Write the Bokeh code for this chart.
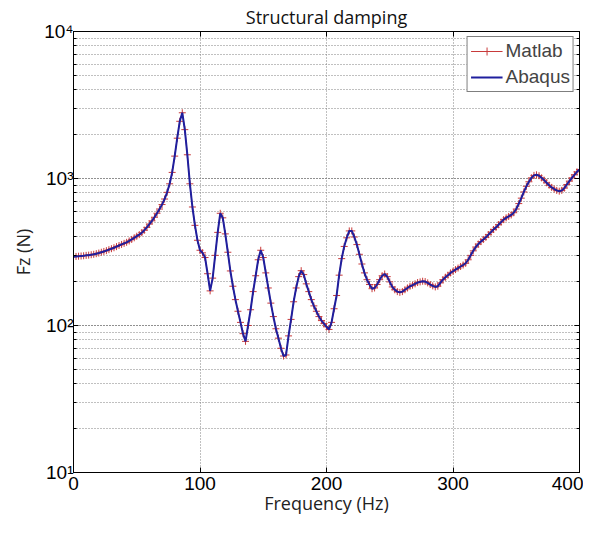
from bokeh.plotting import figure
from bokeh.models import (LogAxis, LinearAxis, LogTicker, FixedTicker, CustomJSTickFormatter,
                          Legend, LegendItem, Range1d)
from bokeh.embed import file_html
from bokeh.resources import INLINE

# ---- data ----
freq = list(range(0, 401, 2))
fz_matlab = [
    294, 295, 296, 297, 298, 300, 301, 303, 305, 308,
    311, 315, 319, 323, 328, 333, 338, 344, 350, 356,
    362, 368, 376, 385, 395, 405, 415, 428, 445, 465,
    490, 515, 545, 580, 620, 665, 725, 805, 920, 1100,
    1420, 1880, 2450, 2800, 2150, 1450, 920, 640, 480, 380,
    325, 312, 290, 225, 172, 210, 300, 430, 580, 540,
    420, 315, 235, 185, 150, 125, 105, 88, 78, 100,
    128, 170, 218, 280, 325, 290, 228, 180, 142, 115,
    95, 82, 70, 62, 63, 85, 110, 145, 180, 215,
    236, 222, 192, 170, 150, 136, 125, 115, 108, 103,
    98, 94, 105, 130, 160, 220, 285, 345, 395, 440,
    440, 400, 355, 305, 262, 228, 205, 190, 178, 180,
    190, 205, 218, 224, 215, 198, 183, 175, 170, 168,
    170, 175, 180, 185, 188, 192, 196, 198, 200, 199,
    195, 190, 186, 183, 185, 195, 205, 213, 220, 228,
    234, 240, 246, 252, 258, 265, 280, 300, 322, 342,
    358, 372, 385, 398, 415, 432, 450, 465, 485, 505,
    525, 540, 552, 565, 585, 620, 675, 735, 810, 885,
    950, 1010, 1050, 1060, 1045, 1010, 975, 935, 900, 870,
    848, 830, 820, 830, 860, 910, 960, 1010, 1060, 1110,
    1150,
]
fz_abaqus = fz_matlab
x_ticks = [0, 100, 200, 300, 400]
title_text = "Structural damping"
x_label = "Frequency (Hz)"
y_label = "Fz (N)"
series_names = ["Matlab", "Abaqus"]

TICK_FONT = "Liberation Sans"
LABEL_FONT = "Open Sans"
GRID_COLOR = "#808080"

p = figure(width=583, height=517, y_axis_type="log",
           x_range=Range1d(0, 400), y_range=Range1d(10, 10000),
           output_backend="svg", toolbar_location=None, title=title_text)

p.min_border_left = 73
p.min_border_right = 4
p.min_border_top = 0
p.min_border_bottom = 0
p.outline_line_color = "black"
p.outline_line_width = 1

p.title.align = "center"
p.title.text_font = LABEL_FONT
p.title.text_font_size = "18px"
p.title.text_font_style = "normal"
p.title.text_color = "#111111"
p.title.offset = 0
p.title.standoff = 5

sup = CustomJSTickFormatter(code="""
const s = {'0':'\u2070','1':'\u00b9','2':'\u00b2','3':'\u00b3','4':'\u2074','5':'\u2075','6':'\u2076','7':'\u2077','8':'\u2078','9':'\u2079','-':'\u207b'};
const e = Math.round(Math.log10(tick));
return '10' + String(e).split('').map(c => s[c]).join('');
""")
blank = CustomJSTickFormatter(code="return '';")

yt = LogTicker(num_minor_ticks=10)
p.yaxis.ticker = yt
p.yaxis.formatter = sup
p.xaxis.ticker = FixedTicker(ticks=x_ticks)

for ax in [p.xaxis[0], p.yaxis[0]]:
    ax.major_label_text_font = TICK_FONT
    ax.major_label_text_font_size = "19px"
    ax.major_label_text_color = "black"
    ax.axis_label_text_font = LABEL_FONT
    ax.axis_label_text_font_size = "18px"
    ax.axis_label_text_font_style = "normal"
    ax.axis_label_text_color = "#222222"
    ax.major_tick_in = 5
    ax.major_tick_out = 0
    ax.minor_tick_in = 3
    ax.minor_tick_out = 0
    ax.axis_line_color = "black"

p.xaxis.axis_label = x_label
p.yaxis.axis_label = y_label
p.xaxis.minor_tick_line_color = None
p.xaxis.major_label_standoff = 4
p.yaxis.major_label_standoff = 0
p.xaxis.axis_label_standoff = -2
p.yaxis.axis_label_standoff = 6

right = LogAxis(ticker=LogTicker(num_minor_ticks=10), formatter=blank,
                major_tick_in=5, major_tick_out=0, minor_tick_in=3, minor_tick_out=0,
                major_label_standoff=0)
p.add_layout(right, "right")
top = LinearAxis(ticker=FixedTicker(ticks=x_ticks), formatter=blank,
                 major_tick_in=5, major_tick_out=0, minor_tick_line_color=None,
                 major_label_standoff=0)
p.add_layout(top, "above")

p.xgrid.grid_line_color = GRID_COLOR
p.xgrid.grid_line_dash = "1 2"
p.ygrid.grid_line_color = GRID_COLOR
p.ygrid.grid_line_dash = "1 2"
p.ygrid.minor_grid_line_color = GRID_COLOR
p.ygrid.minor_grid_line_dash = "1 2"

r_ml = p.line(freq, fz_matlab, line_color="#c83a3a", line_width=1)
r_mk = p.scatter(freq, fz_matlab, marker="cross", size=7, line_color="#c83a3a", line_width=1)
r_ab = p.line(freq, fz_abaqus, line_color="#1f1f9e", line_width=2)

legend = Legend(items=[LegendItem(label=series_names[0], renderers=[r_ml, r_mk]),
                       LegendItem(label=series_names[1], renderers=[r_ab])],
                location="top_right", margin=5, padding=3, spacing=4,
                glyph_width=32, glyph_height=20, label_height=20, label_standoff=3,
                label_text_font=TICK_FONT, label_text_font_size="19px",
                border_line_color="black", border_line_width=1,
                background_fill_alpha=1.0)
p.add_layout(legend)

open("out.html", "w").write(file_html(p, INLINE))
